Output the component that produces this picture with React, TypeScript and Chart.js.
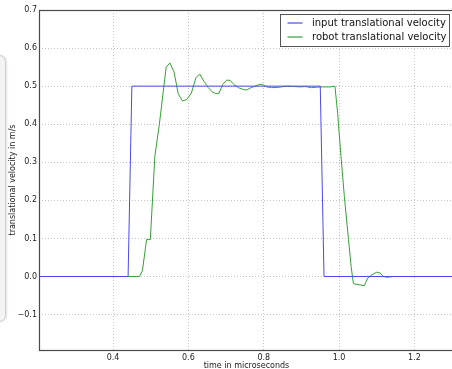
import React, { useEffect, useRef } from "react";
import { Chart, registerables } from "chart.js";

Chart.register(...registerables);

const seriesLabels = ["input translational velocity", "robot translational velocity"];

const inputX = [0.2, 0.44, 0.45, 0.95, 0.96, 1.31];
const inputY = [0, 0, 0.5, 0.5, 0, 0];

const robotX = [
  0.2, 0.47, 0.478, 0.489, 0.499, 0.511, 0.523, 0.535, 0.541, 0.551, 0.562, 0.573, 0.584,
  0.596, 0.608, 0.62, 0.63, 0.641, 0.652, 0.663, 0.673, 0.681, 0.691, 0.702, 0.711, 0.721,
  0.733, 0.746, 0.755, 0.766, 0.777, 0.79, 0.797, 0.808, 0.821, 0.84, 0.86, 0.88, 0.897,
  0.91, 0.927, 0.94, 0.952, 0.976, 0.989, 0.996, 1.005, 1.014, 1.025, 1.032, 1.038, 1.067,
  1.076, 1.087, 1.1, 1.109, 1.118, 1.127, 1.144, 1.31,
];
const robotY = [
  0, 0, 0.015, 0.097, 0.097, 0.316, 0.4, 0.5, 0.55, 0.561, 0.537, 0.48, 0.461,
  0.465, 0.482, 0.522, 0.532, 0.513, 0.497, 0.485, 0.48, 0.481, 0.504, 0.516, 0.515, 0.504,
  0.496, 0.491, 0.49, 0.496, 0.5, 0.505, 0.504, 0.498, 0.496, 0.497, 0.5, 0.499, 0.498,
  0.499, 0.496, 0.497, 0.498, 0.498, 0.5, 0.43, 0.316, 0.21, 0.097, 0.026, -0.019, -0.024,
  -0.004, 0.0045, 0.0115, 0.009, 0, -0.002, 0, 0,
];

const xTicks = [0.4, 0.6, 0.8, 1.0, 1.2];
const yTicks = [-0.1, 0.0, 0.1, 0.2, 0.3, 0.4, 0.5, 0.6, 0.7];

const xLimits = [0.2035, 1.305];
const yLimits = [-0.193, 0.7];

const xTitle = "time in microseconds";
const yTitle = "translational velocity in m/s";

const colors = ["#4a4ae6", "#35a035"];

const FONT = "'DejaVu Sans', sans-serif";

const framePlugin = {
  id: "frame",
  afterDatasetsDraw(chart: any) {
    const { ctx, chartArea: a } = chart;
    ctx.save();
    ctx.strokeStyle = "#4a4a4a";
    ctx.lineWidth = 1.2;
    ctx.strokeRect(Math.round(a.left) + 0.5, Math.round(a.top) + 0.5, a.right - a.left, a.bottom - a.top);
    ctx.restore();
  },
};

const legendPlugin = {
  id: "boxLegend",
  afterDraw(chart: any) {
    const { ctx, chartArea: a } = chart;
    const w = 169;
    const h = 32;
    const left = Math.round(a.right - 4.7 - w) + 0.5;
    const top = Math.round(a.top + 4) + 0.5;
    ctx.save();
    ctx.fillStyle = "#ffffff";
    ctx.fillRect(left, top, w, h);
    ctx.strokeStyle = "#555555";
    ctx.lineWidth = 1;
    ctx.strokeRect(left, top, w, h);
    ctx.font = `10px ${FONT}`;
    ctx.textBaseline = "middle";
    ctx.textAlign = "left";
    seriesLabels.forEach((label, i) => {
      const y = top + 8.5 + i * 14.3;
      ctx.strokeStyle = colors[i];
      ctx.lineWidth = 1.2;
      ctx.beginPath();
      ctx.moveTo(left + 7, Math.round(y));
      ctx.lineTo(left + 22, Math.round(y));
      ctx.stroke();
      ctx.fillStyle = "#111111";
      ctx.fillText(label, left + 31.5, y);
    });
    ctx.restore();
  },
};

const fmt = (v: number) => (v < 0 ? "\u2212" + Math.abs(v).toFixed(1) : v.toFixed(1));

export default function App() {
  const ref = useRef<HTMLCanvasElement | null>(null);

  useEffect(() => {
    if (!ref.current) return;
    const chart = new Chart(ref.current, {
      type: "line",
      data: {
        datasets: [
          {
            label: seriesLabels[0],
            data: inputX.map((x, i) => ({ x, y: inputY[i] })),
            borderColor: colors[0],
            borderWidth: 1,
            pointRadius: 0,
            fill: false,
            tension: 0,
          },
          {
            label: seriesLabels[1],
            data: robotX.map((x, i) => ({ x, y: robotY[i] })),
            borderColor: colors[1],
            borderWidth: 1,
            pointRadius: 0,
            fill: false,
            tension: 0,
          },
        ],
      },
      options: {
        animation: false,
        responsive: false,
        maintainAspectRatio: false,
        layout: { padding: { top: 10, right: 1, left: 0, bottom: 0 } },
        plugins: { legend: { display: false }, tooltip: { enabled: false } },
        scales: {
          x: {
            type: "linear",
            min: xLimits[0],
            max: xLimits[1],
            afterBuildTicks: (s: any) => {
              s.ticks = xTicks.map((v) => ({ value: v }));
            },
            afterFit: (s: any) => {
              s.height = 30;
            },
            grid: {
              color: "#c4c4c4",
              lineWidth: 1,
              drawTicks: false,
            },
            border: { display: false, dash: [1, 2] },
            ticks: {
              padding: 3,
              color: "#222222",
              font: { family: FONT, size: 8 },
              maxRotation: 0,
              callback: (v: any) => fmt(Number(v)),
            },
            title: {
              display: true,
              text: xTitle,
              color: "#222222",
              font: { family: FONT, size: 8 },
              padding: { top: 0, bottom: 9.5 },
            },
          },
          y: {
            type: "linear",
            min: yLimits[0],
            max: yLimits[1],
            afterBuildTicks: (s: any) => {
              s.ticks = yTicks.map((v) => ({ value: v }));
            },
            afterFit: (s: any) => {
              s.width = 39;
            },
            grid: {
              color: "#c4c4c4",
              lineWidth: 1,
              drawTicks: false,
            },
            border: { display: false, dash: [1, 2] },
            ticks: {
              padding: 2,
              color: "#222222",
              font: { family: FONT, size: 8 },
              callback: (v: any) => fmt(Number(v)),
            },
            title: {
              display: true,
              text: yTitle,
              color: "#222222",
              font: { family: FONT, size: 8 },
              padding: { top: 7.7, bottom: 0 },
            },
          },
        },
      },
      plugins: [framePlugin, legendPlugin],
    } as any);
    return () => chart.destroy();
  }, []);

  return (
    <div
      style={{
        position: "fixed",
        left: 0,
        top: 0,
        width: 452,
        height: 369,
        overflow: "hidden",
        background: "#ffffff",
      }}
    >
      <div
        style={{
          position: "absolute",
          left: -14,
          top: 55,
          width: 18,
          height: 265,
          borderRadius: 7,
          border: "1px solid #cfcfcf",
          background: "#f4f4f4",
          boxShadow: "1px 0 2px rgba(0,0,0,0.12)",
        }}
      />
      <canvas
        ref={ref}
        width={455}
        height={380}
        style={{ position: "absolute", left: 0, top: 0, width: 455, height: 380 }}
      />
    </div>
  );
}
